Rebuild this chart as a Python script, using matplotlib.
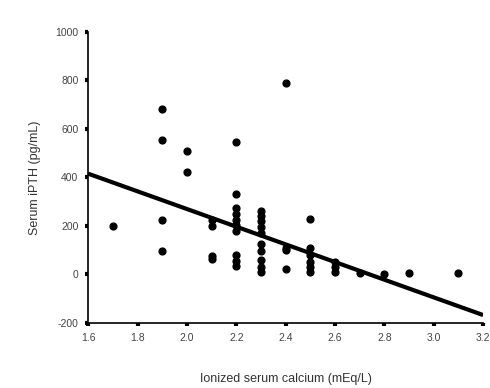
import matplotlib.pyplot as plt
import numpy as np

plt.rcParams['font.family'] = ['Liberation Sans', 'DejaVu Sans']

# ionized calcium (mEq/L) and serum iPTH (pg/mL)
calcium = [1.7,
           1.9, 1.9, 1.9, 1.9,
           2.0, 2.0,
           2.1, 2.1, 2.1, 2.1,
           2.2, 2.2, 2.2, 2.2, 2.2, 2.2, 2.2, 2.2, 2.2, 2.2,
           2.3, 2.3, 2.3, 2.3, 2.3, 2.3, 2.3, 2.3, 2.3, 2.3,
           2.4, 2.4, 2.4, 2.4,
           2.5, 2.5, 2.5, 2.5, 2.5, 2.5,
           2.6, 2.6, 2.6,
           2.7, 2.8, 2.9, 3.1]
ipth = [200,
        680, 555, 225, 95,
        510, 420,
        225, 200, 75, 65,
        545, 330, 275, 250, 225, 205, 180, 80, 55, 35,
        260, 240, 220, 195, 170, 125, 95, 60, 30, 10,
        790, 110, 100, 20,
        230, 110, 80, 50, 30, 10,
        50, 30, 10,
        5, 0, 5, 5]

# fitted regression line end points
line_x = [1.6, 3.2]
line_y = [415, -168]

x_ticks = [1.6, 1.8, 2.0, 2.2, 2.4, 2.6, 2.8, 3.0, 3.2]
y_ticks = [-200, 0, 200, 400, 600, 800, 1000]

fig = plt.figure(figsize=(4.9, 3.88), dpi=100)
ax = fig.add_axes([0.18, 0.168, 0.806, 0.75])

ax.scatter(calcium, ipth, s=24, color='black', zorder=3)
ax.plot(line_x, line_y, color='black', lw=3, solid_capstyle='butt', zorder=2)

ax.set_xlim(1.6, 3.2)
ax.set_ylim(-200, 1000)
ax.set_xticks(x_ticks)
ax.set_xticklabels([f'{t:.1f}' for t in x_ticks])
ax.set_yticks(y_ticks)
ax.set_yticklabels([str(t) for t in y_ticks])

ax.spines['right'].set_visible(False)
ax.spines['top'].set_visible(False)
ax.spines['left'].set_linewidth(1.2)
ax.spines['bottom'].set_linewidth(1.2)
ax.tick_params(direction='out', length=2, width=3, labelsize=7.5,
               labelcolor='#444444', pad=5)

ax.set_ylabel('Serum iPTH (pg/mL)', fontsize=9, color='#333333', labelpad=10)
ax.set_xlabel('Ionized serum calcium (mEq/L)', fontsize=9, color='#333333', labelpad=22)

fig.savefig('out.png', dpi=100)
